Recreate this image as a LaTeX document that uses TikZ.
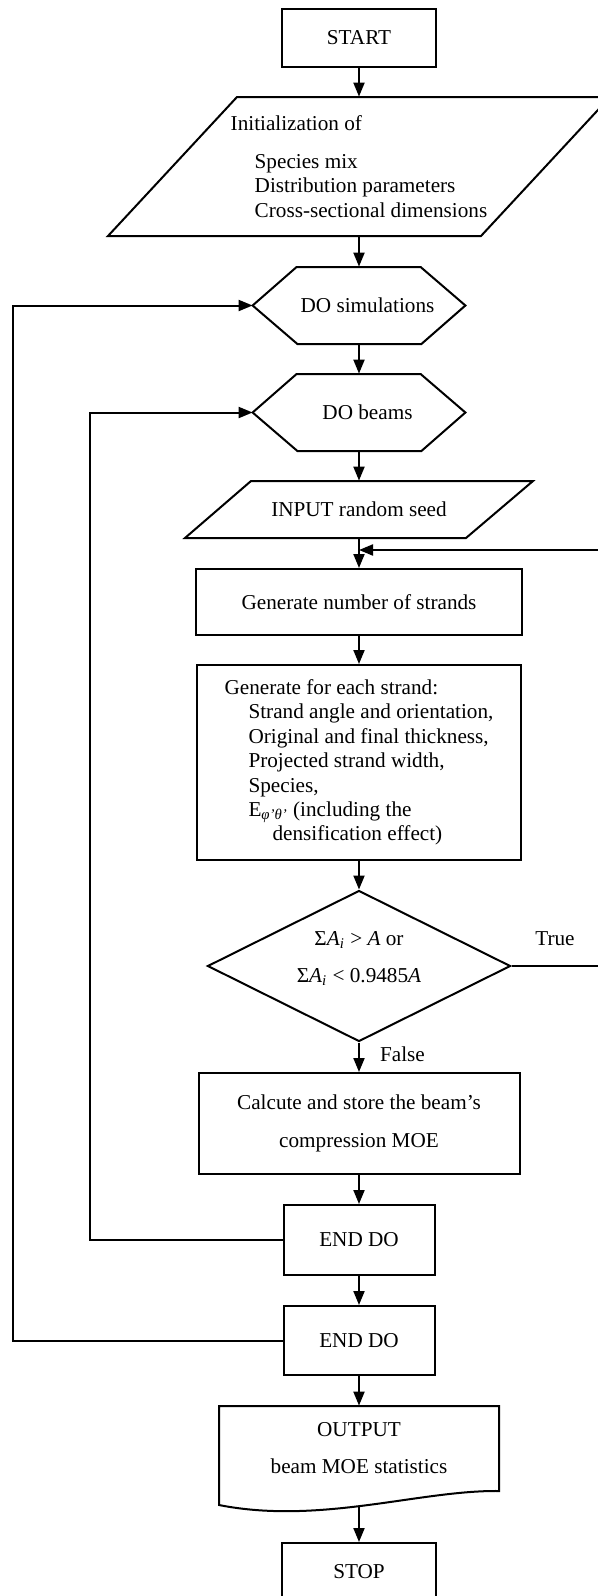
\documentclass[tikz,border=0pt]{standalone}
\usepackage{fontspec}
\setmainfont{Liberation Serif}
\usetikzlibrary{arrows.meta,shapes.geometric}

\begin{document}
\begin{tikzpicture}
[x=0.5pt, y=-0.5pt,
every node/.style={font=\fontsize{10.6pt}{12.2pt}\selectfont},
process/.style={draw=black, line width=1pt, inner sep=2pt},
holder/.style={inner sep=0pt},
outline/.style={draw=black, line width=1pt},
decision/.style={shape=diamond, draw=black, line width=1pt, inner sep=0pt, aspect=2},
twoline/.style={font=\fontsize{10.6pt}{18.5pt}\selectfont, align=center},
%
flow/.style={->, >={Triangle[length=7pt,width=5.5pt]}, line width=1pt}]

\useasboundingbox (0,0) rectangle (598,1596);
\clip (0,0) rectangle (598,1596);

% main column
\node (start) [process, minimum width=77pt, minimum height=29pt] at (359,38) {START};

\node (init) [holder, minimum width=186pt, minimum height=69.5pt, align=left] at (359,166.5)
  {Initialization of\\[6.8pt]
   \hspace*{12pt}Species mix\\
   \hspace*{12pt}Distribution parameters\\
   \hspace*{12pt}Cross-sectional dimensions};
\draw [outline] (237,97) -- (610,97) -- (481,236) -- (108,236) -- cycle;

\node (sim) [holder, minimum width=106pt, minimum height=38.5pt] at (359,305.5) {\hspace*{8.5pt}DO simulations};
\draw [outline] (sim.west) -- ++(44,-38.5) -- ++(124,0) -- (sim.east) -- ++(-44,38.5) -- ++(-124,0) -- cycle;

\node (beam) [holder, minimum width=106pt, minimum height=38.5pt] at (359,412.5) {\hspace*{8.5pt}DO beams};
\draw [outline] (beam.west) -- ++(44,-38.5) -- ++(124,0) -- (beam.east) -- ++(-44,38.5) -- ++(-124,0) -- cycle;

\node (seed) [holder, minimum width=100pt, minimum height=28.5pt] at (359,509.5) {INPUT random seed};
\draw [outline] (251,481) -- (533,481) -- (466,538) -- (185,538) -- cycle;

\coordinate (merge) at (359,550);

\node (gen) [process, minimum width=163pt, minimum height=33pt] at (359,602) {Generate number of strands};

\node (strand) [process, minimum width=162pt, minimum height=97.5pt, align=left] at (359,762.5)
  {Generate for each strand:\\
   \hspace*{12pt}Strand angle and orientation,\\
   \hspace*{12pt}Original and final thickness,\\
   \hspace*{12pt}Projected strand width,\\
   \hspace*{12pt}Species,\\
   \hspace*{12pt}E\textsubscript{\textit{φ’θ’}} (including the\\
   \hspace*{24pt}densification effect)};

\node (dec) [decision, minimum width=151.5pt, minimum height=75.5pt] at (359,966) {};
\node (dectext) [twoline] at (359,958.5)
  {Σ\textit{A}\textsubscript{\textit{i}} > \textit{A} or\\
   Σ\textit{A}\textsubscript{\textit{i}} < 0.9485\textit{A}};

\node (calc) [process, minimum width=160.5pt, minimum height=50.5pt, font=\fontsize{10.6pt}{19pt}\selectfont, align=center] at (359,1123.5)
  {Calcute and store the beam’s\\ compression MOE};

\node (endb) [process, minimum width=75.5pt, minimum height=35pt] at (359,1240) {END DO};
\node (ends) [process, minimum width=75.5pt, minimum height=34.5pt] at (359,1340.5) {END DO};

\node (out) [holder, minimum width=140pt, minimum height=50pt] at (359,1456) {};
\draw [outline] (219,1406) -- (499,1406) -- (499,1491) .. controls (420,1490) and (320,1525) .. (219,1505) -- cycle;
\node (outtext) [twoline] at (359,1448.5) {OUTPUT\\ beam MOE statistics};

\node (stop) [process, minimum width=77pt, minimum height=29pt] at (359,1572) {STOP};

% straight flow
\draw [flow] (start) -- (init);
\draw [flow] (init) -- (sim);
\draw [flow] (sim) -- (beam);
\draw [flow] (beam) -- (seed);
\draw [flow] (seed) -- (gen);
\draw [flow] (gen) -- (strand);
\draw [flow] (strand) -- (dec);
\draw [flow] (dec) -- (calc);
\draw [flow] (calc) -- (endb);
\draw [flow] (endb) -- (ends);
\draw [flow] (ends) -- (out);
\draw [flow] (out) -- (stop);

% loops back
\draw [flow] (endb.west) -- ++(-193,0) |- (beam.west);
\draw [flow] (ends.west) -- ++(-270,0) |- (sim.west);
\draw [flow] (dec.east) -- ++(92,0) |- (merge);

% branch labels
\node (truelbl) at (555,939) {True};
\node (falselbl) [anchor=west] at (373,1054) {False};

\end{tikzpicture}
\end{document}
